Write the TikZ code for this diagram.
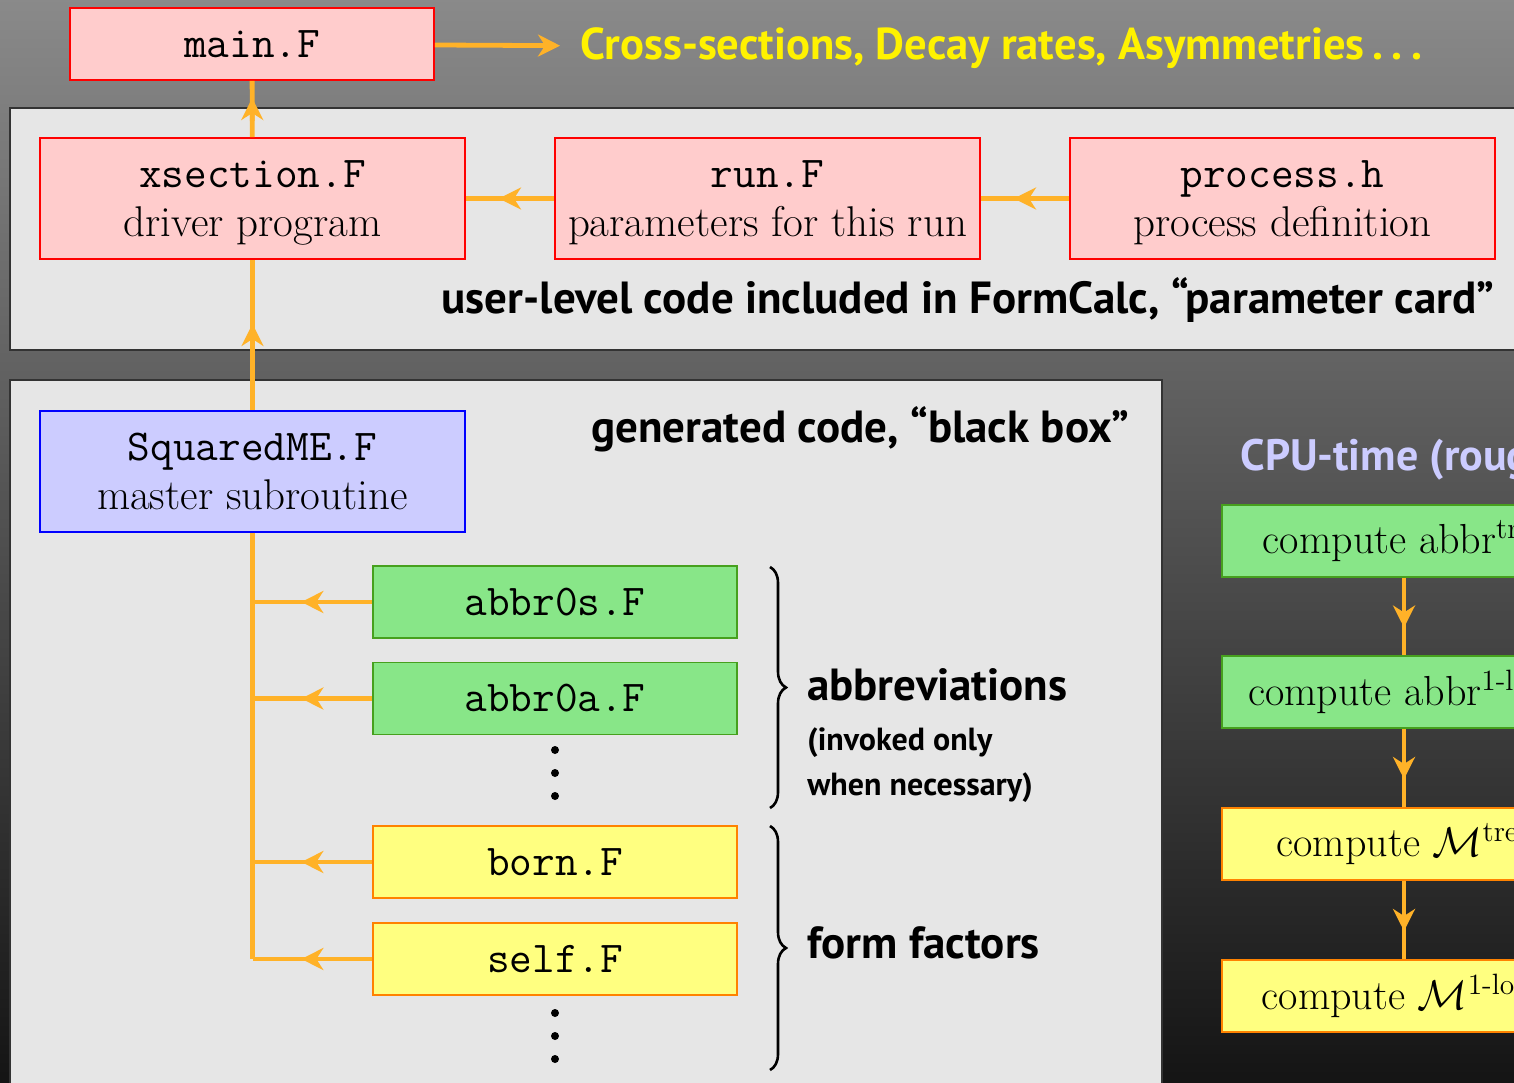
\documentclass[tikz,border=0pt]{standalone}
\usepackage{fontspec}
\usepackage{amsmath}
\usepackage{tikz}
\newfontfamily\slidesans{PT Sans}
\usetikzlibrary{arrows.meta}
\usetikzlibrary{decorations.markings}
\usetikzlibrary{decorations.pathreplacing}
\usetikzlibrary{positioning}
\definecolor{morange}{RGB}{255, 178, 40}
\definecolor{mpink}{RGB}{255, 204, 204}
\definecolor{mlilac}{RGB}{204, 204, 255}
\definecolor{mgreen}{RGB}{136, 230, 136}
\definecolor{mgreenline}{RGB}{70, 160, 30}
\definecolor{myellow}{RGB}{255, 255, 128}
\definecolor{myellowline}{RGB}{255, 130, 0}
\definecolor{mpanel}{RGB}{230, 230, 230}
\tikzset{orangeline/.style = {draw=morange, line width=2.4pt},
         headtip/.style = {-{Stealth[length=11pt, width=11pt, inset=3.5pt]}},
         midarrow/.style = {decoration={markings,
                                        mark=at position 0.5 with {\draw [orangeline, headtip] (-6pt, 0) -- (5.5pt, 0);}},
                            postaction={decorate}},
         panel/.style = {fill=mpanel, draw=black!80, line width=1pt},
         bigbox/.style = {minimum width=212.5pt, minimum height=60.5pt, inner sep=0pt, text depth=0pt,
                          align=center, line width=0.8pt, font=\fontsize{21.5}{24.5}\selectfont},
         smallbox/.style = {minimum width=182pt, minimum height=36pt, inner sep=0pt,
                            line width=0.8pt, font=\fontsize{21}{24}\selectfont},
         sanslabel/.style = {inner sep=0pt, font=\slidesans\bfseries\fontsize{22.5}{26}\selectfont}}

\begin{document}
\begin{tikzpicture}[x=0.5pt, y=-0.5pt]
    \useasboundingbox (0, 0) rectangle (1514, 1082);
    \clip (0, 0) rectangle (1514, 1082);
    \shade [top color=black!46, bottom color=black!92] (0, 0) rectangle (1514, 1082);

    \draw [panel] (10, 108) rectangle (1540, 350);
    \draw [panel] (10, 380) rectangle (1162, 1110);

    \begin{scope}
      \node [smallbox, fill=mpink, draw=red, font=\ttfamily\fontsize{22}{24}\selectfont] (main) at (252, 44) {main.F};
      \node [sanslabel, anchor=west, text=yellow, inner xsep=10pt, font=\slidesans\bfseries\fontsize{22.3}{26}\selectfont] (results) at (560, 48)
        {Cross-sections, Decay rates, Asymmetries\,.\hspace{0.2em}.\hspace{0.2em}.};
      \draw [orangeline, headtip] (main) -- (results);
    \end{scope}

    \begin{scope}
      \node [bigbox, fill=mpink, draw=red] (xsection) at (252.5, 198.5) {\texttt{\fontsize{22}{24}\selectfont xsection.F}\\ driver program};
      \node [bigbox, fill=mpink, draw=red] (run) at (767.5, 198.5) {\texttt{\fontsize{22}{24}\selectfont run.F}\\ parameters for this run};
      \node [bigbox, fill=mpink, draw=red] (process) at (1282.5, 198.5) {\texttt{\fontsize{22}{24}\selectfont process.h}\\ process definition};
      \node [sanslabel, anchor=base east] (userlevel) at (1495, 313) {user-level code included in FormCalc, “parameter card”};
      \draw [orangeline, midarrow] (process) -- (run);
      \draw [orangeline, midarrow] (run) -- (xsection);
      \draw [orangeline, midarrow] (xsection) -- (main);
    \end{scope}

    \begin{scope}
      \node [bigbox, fill=mlilac, draw=blue] (squaredme) at (252.5, 471.5) {\texttt{\fontsize{22}{24}\selectfont SquaredME.F}\\ master subroutine};
      \node [sanslabel, anchor=base east] (generated) at (1130, 442) {generated code, “black box”};
      \draw [orangeline, midarrow] (squaredme) -- (xsection);

      \node [smallbox, fill=mgreen, draw=mgreenline, font=\ttfamily\fontsize{22}{24}\selectfont] (abbrs) at (555, 602) {abbr0s.F};
      \node [smallbox, fill=mgreen, draw=mgreenline, font=\ttfamily\fontsize{22}{24}\selectfont] (abbra) at (555, 698.5) {abbr0a.F};
      \node [smallbox, fill=myellow, draw=myellowline, font=\ttfamily\fontsize{22}{24}\selectfont] (born) at (555, 862) {born.F};
      \node [smallbox, fill=myellow, draw=myellowline, font=\ttfamily\fontsize{22}{24}\selectfont] (self) at (555, 959) {self.F};
      \foreach \y in {750, 773, 796, 1013, 1036, 1059}
        \fill (555, \y) circle (2pt);

      \draw [orangeline] (squaredme.south) -- (self.west -| squaredme.south);
      \foreach \file in {abbrs, abbra, born, self}
        \draw [orangeline, midarrow] (\file.west) -- (\file.west -| squaredme.south);

      \draw [line width=1.3pt, decorate, decoration={brace, amplitude=8pt}] (770, 567) -- (770, 808);
      \draw [line width=1.3pt, decorate, decoration={brace, amplitude=8pt}] (770, 826) -- (770, 1070);
      \node [sanslabel, anchor=base west] (abbrev) at (807, 700) {abbreviations};
      \node [sanslabel, anchor=base west, font=\slidesans\bfseries\fontsize{16}{22.5}\selectfont, align=left] (invoked) at (807, 795)
        {(invoked only\\ when necessary)};
      \node [sanslabel, anchor=base west] (formfactors) at (807, 958) {form factors};
    \end{scope}

    \begin{scope}
      \node [sanslabel, anchor=base west, text=mlilac, font=\slidesans\bfseries\fontsize{22}{26}\selectfont] (cputime) at (1240, 470) {CPU-time (roughly)};
      \node [smallbox, fill=mgreen, draw=mgreenline] (treeabbr) at (1404, 541) {compute abbr$^{\text{tree}}$};
      \node [smallbox, fill=mgreen, draw=mgreenline] (loopabbr) at (1404, 692) {compute abbr$^{\text{1-loop}}$};
      \node [smallbox, fill=myellow, draw=myellowline] (treeme) at (1404, 844) {compute $\mathcal{M}^{\text{tree}}$};
      \node [smallbox, fill=myellow, draw=myellowline] (loopme) at (1404, 996) {compute $\mathcal{M}^{\text{1-loop}}$};
      \draw [orangeline, midarrow] (treeabbr) -- (loopabbr);
      \draw [orangeline, midarrow] (loopabbr) -- (treeme);
      \draw [orangeline, midarrow] (treeme) -- (loopme);
    \end{scope}
\end{tikzpicture}
\end{document}
